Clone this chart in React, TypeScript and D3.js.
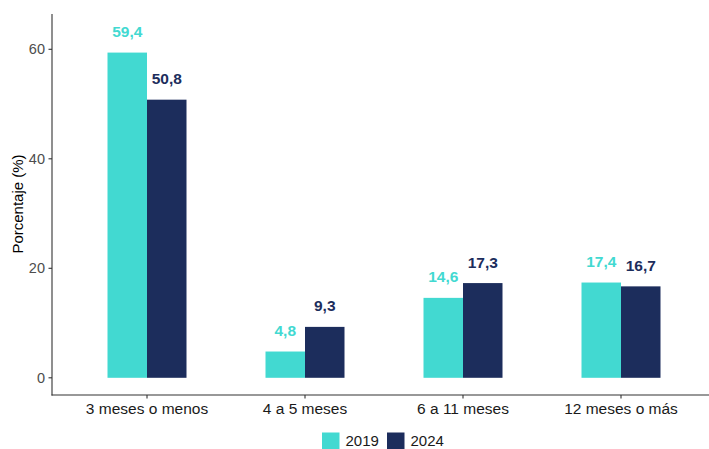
import React from "react";
import * as d3 from "d3";

const categories = ["3 meses o menos", "4 a 5 meses", "6 a 11 meses", "12 meses o más"];
const seriesNames = ["2019", "2024"];
const values2019 = [59.4, 4.8, 14.6, 17.4];
const values2024 = [50.8, 9.3, 17.3, 16.7];
const yTicks = [0, 20, 40, 60];
const colors = ["#42D9D1", "#1C2D5C"];

const W = 709;
const H = 449;

export default function App() {
  const y = d3.scaleLinear().domain([0, 60]).range([377.8, 49.3]);
  const x = d3
    .scaleBand<string>()
    .domain(categories)
    .range([68, 700])
    .paddingInner(0.5)
    .paddingOuter(0.25);
  const sub = d3.scaleBand<string>().domain(seriesNames).range([0, x.bandwidth()]);
  const series = [values2019, values2024];
  const fmt = (v: number) => d3.format(".1f")(v).replace(".", ",");
  const font = "'Liberation Sans', Arial, sans-serif";
  const axisLeft = 52;
  const axisBottom = 395;

  return (
    <svg
      width={W}
      height={H}
      style={{ position: "absolute", left: 0, top: 0, fontFamily: font }}
    >
      <rect width={W} height={H} fill="#ffffff" />
      {/* bars */}
      {series.map((vals, si) =>
        vals.map((v, ci) => (
          <rect
            key={`b${si}-${ci}`}
            x={(x(categories[ci]) as number) + (sub(seriesNames[si]) as number)}
            y={y(v)}
            width={sub.bandwidth()}
            height={y(0) - y(v)}
            fill={colors[si]}
          />
        ))
      )}
      {/* value labels */}
      {series.map((vals, si) =>
        vals.map((v, ci) => (
          <text
            key={`l${si}-${ci}`}
            x={(x(categories[ci]) as number) + (sub(seriesNames[si]) as number) + sub.bandwidth() / 2}
            y={y(v) - 15.5}
            textAnchor="middle"
            fontSize={15.5}
            fontWeight="bold"
            fill={colors[si]}
          >
            {fmt(v)}
          </text>
        ))
      )}
      {/* axes */}
      <line x1={axisLeft} x2={axisLeft} y1={14} y2={axisBottom + 0.5} stroke="#333" strokeWidth={1.1} />
      <line x1={axisLeft - 0.5} x2={W} y1={axisBottom} y2={axisBottom} stroke="#333" strokeWidth={1.1} />
      {yTicks.map((t) => (
        <g key={`yt${t}`}>
          <line x1={axisLeft - 3.5} x2={axisLeft} y1={y(t)} y2={y(t)} stroke="#333" strokeWidth={1.1} />
          <text x={45} y={y(t)} dy="0.35em" textAnchor="end" fontSize={14.5} fill="#4d4d4d">
            {t}
          </text>
        </g>
      ))}
      {categories.map((c) => {
        const cx = (x(c) as number) + x.bandwidth() / 2;
        return (
          <g key={`xt${c}`}>
            <line x1={cx} x2={cx} y1={axisBottom} y2={axisBottom + 3.5} stroke="#333" strokeWidth={1.1} />
            <text x={cx} y={414} textAnchor="middle" fontSize={15.5} fill="#1a1a1a">
              {c}
            </text>
          </g>
        );
      })}
      <text
        transform={`translate(23,204) rotate(-90)`}
        textAnchor="middle"
        fontSize={15}
        fill="#000"
      >
        Porcentaje (%)
      </text>
      {/* legend */}
      {seriesNames.map((s, i) => {
        const lx = 322 + i * 65;
        return (
          <g key={`lg${s}`}>
            <rect x={lx} y={432.5} width={17.5} height={16.5} fill={colors[i]} />
            <text x={lx + 23.5} y={446} fontSize={15} fill="#1a1a1a">
              {s}
            </text>
          </g>
        );
      })}
    </svg>
  );
}
